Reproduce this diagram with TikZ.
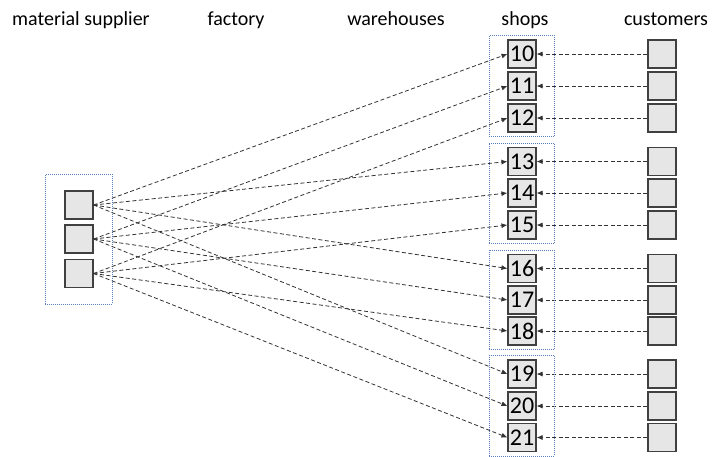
\documentclass[tikz,border=0pt]{standalone}
\usepackage{fontspec}
\setmainfont{Carlito}
\usetikzlibrary{arrows.meta,fit}

\definecolor{boxfill}{HTML}{E6E6E6}
\definecolor{boxline}{HTML}{404040}
\definecolor{flowline}{HTML}{333333}
\definecolor{groupline}{HTML}{5B7DB8}

\tikzset{
  x=1pt, y=-1pt,
  cell/.style={draw=boxline, fill=boxfill, line width=1.1pt, minimum width=28pt,
    minimum height=28pt, inner sep=0pt, font=\fontsize{24}{24}\selectfont},
  heading/.style={font=\fontsize{20}{22}\selectfont, anchor=base, inner sep=0pt},
  group/.style={draw=groupline, line width=0.8pt, dash pattern=on 1pt off 1pt,
    inner xsep=18pt, inner ysep=4pt},
  flow/.style={draw=flowline, line width=0.8pt, dash pattern=on 4pt off 2.5pt,
    -{Latex[length=6pt,width=5pt]}},
}

\begin{document}
\begin{tikzpicture}
  \useasboundingbox (0,0) rectangle (712,456);

  % column headings
  \node[heading] (hsup)  at (81,25)  {material supplier};
  \node[heading] (hfac)  at (236,25) {factory};
  \node[heading] (hware) at (396,25) {warehouses};
  \node[heading] (hshop) at (525,25) {shops};
  \node[heading] (hcust) at (666,25) {customers};

  % material supplier
  \node[cell] (m1) at (79,205)   {};
  \node[cell] (m2) at (79,239)   {};
  \node[cell] (m3) at (79,273.5) {};
  \node[group, inner xsep=19pt, inner ysep=16pt, fit=(m1)(m3)] (gm) {};

  % shops and customers
  \foreach \n/\y in {10/54,11/86,12/118,13/161.5,14/193,15/225,
                     16/268.5,17/300,18/331,19/374,20/406,21/437.5}{
    \node[cell] (s\n) at (522,\y) {\n};
    \node[cell] (c\n) at (662,\y) {};
    \draw[flow] (c\n.west) -- (s\n.east);
  }

  % shop groups
  \node[group, fit=(s10)(s12)] (g1) {};
  \node[group, fit=(s13)(s15)] (g2) {};
  \node[group, fit=(s16)(s18)] (g3) {};
  \node[group, fit=(s19)(s21)] (g4) {};

  % supplier to shops
  \foreach \s in {10,13,16,19}{ \draw[flow] (m1.east) -- (s\s.west); }
  \foreach \s in {11,14,17,20}{ \draw[flow] (m2.east) -- (s\s.west); }
  \foreach \s in {12,15,18,21}{ \draw[flow] (m3.east) -- (s\s.west); }
\end{tikzpicture}
\end{document}
